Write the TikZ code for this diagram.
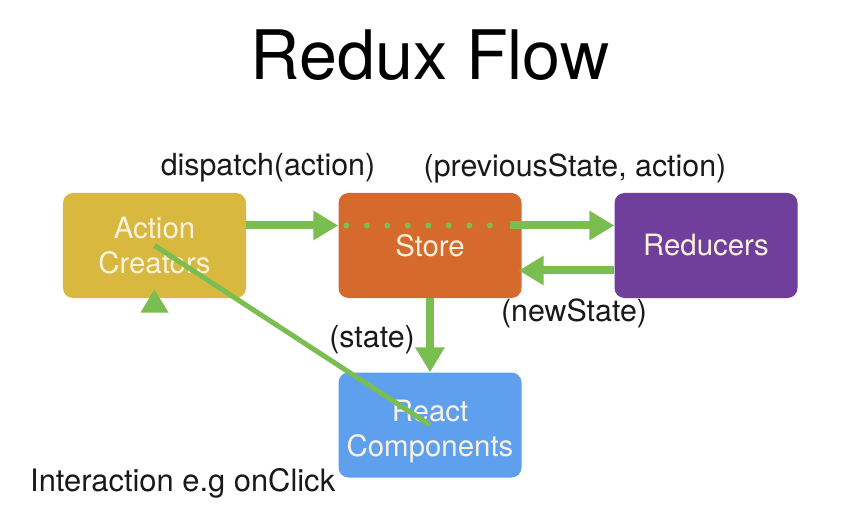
\documentclass[tikz,border=0pt]{standalone}
\usepackage{fontspec}
\setmainfont{TeX Gyre Heros}
\usetikzlibrary{arrows.meta}
\definecolor{acol}{RGB}{217,184,64}
\definecolor{scol}{RGB}{213,106,44}
\definecolor{rcol}{RGB}{112,63,155}
\definecolor{bcol}{RGB}{95,160,238}
\definecolor{gcol}{RGB}{122,190,82}
\definecolor{tcol}{RGB}{250,242,222}
\definecolor{lcol}{RGB}{25,25,25}
\tikzset{
  box/.style={rounded corners=10bp, minimum width=183bp, minimum height=105bp,
    inner sep=0pt, align=center, text=tcol, font=\fontsize{29.5}{35}\selectfont},
  lbl/.style={text=lcol, inner sep=0pt, font=\fontsize{30.5}{35}\selectfont},
  arr/.style={draw=gcol, line width=8bp, -{Triangle[length=25bp,width=28bp]}},
}
\begin{document}
\begin{tikzpicture}[x=1bp,y=-1bp]
\useasboundingbox[fill=white] (0,0) rectangle (852,522);
\node[text=black, inner sep=0pt, font=\fontsize{68.5}{72}\selectfont] (title) at (430,55) {Redux Flow};
\node[box, fill=acol] (action) at (154.5,245.5) {Action\\Creators};
\node[box, fill=scol] (store) at (430,245.5) {Store};
\node[box, fill=rcol] (reducers) at (706,245.5) {Reducers};
\node[box, fill=bcol] (react) at (430,425) {\raisebox{-13bp}[0pt][0pt]{\parbox{183bp}{\centering React\\Components}}};
\node[lbl] (ldispatch) at (268,168) {dispatch(action)};
\node[lbl] (lprev) at (575,168) {(previousState, action)};
\node[lbl] (lnew) at (574,313) {(newState)};
\node[lbl] (lstate) at (372,340) {(state)};
\node[lbl, anchor=west, font=\fontsize{31}{35}\selectfont] (linter) at (30,483) {Interaction e.g onClick};
% arrows
\draw[arr] ([yshift=20bp]action.east) -- ([yshift=20bp]store.west);
\draw[gcol, line width=6bp, line cap=round, dash pattern=on 0bp off 20.5bp]
  ([xshift=8bp,yshift=20bp]store.west) -- ([xshift=-14bp,yshift=20bp]store.east);
\draw[arr] ([xshift=-12bp,yshift=20bp]store.east) -- ([yshift=20bp]reducers.west);
\draw[arr] ([yshift=-25bp]reducers.west) -- ([xshift=-3bp,yshift=-25bp]store.east);
\draw[arr] (store.south) -- (react.north);
\draw[gcol, line width=5bp] (react.center) -- (action.center);
\coordinate (tip) at ([yshift=-44bp]action.center);
\fill[gcol] (tip) -- ++(14,23) -- ++(-28,0) -- cycle;
\end{tikzpicture}
\end{document}
